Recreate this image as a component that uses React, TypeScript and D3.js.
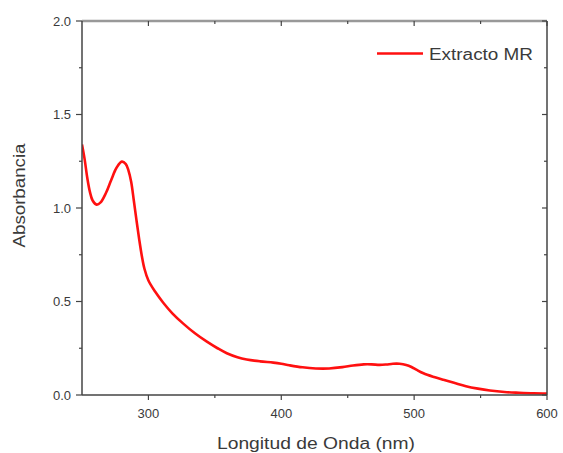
import React from "react";
import * as d3 from "d3";

const wavelengths = [250, 252, 254, 256, 258, 261, 264, 268, 272, 276, 280, 283, 285, 287, 289, 291, 293, 295, 297, 300, 305, 311, 318, 326, 335, 344, 352, 359, 367, 374, 384, 394, 400, 406, 416, 426, 436, 446, 454, 462, 468, 474, 479, 484, 489, 494, 498, 502, 507, 515, 522, 530, 539, 548, 557, 568, 579, 590, 600];
const absorbance = [1.34, 1.26, 1.16, 1.085, 1.04, 1.018, 1.03, 1.08, 1.15, 1.215, 1.248, 1.235, 1.2, 1.14, 1.04, 0.935, 0.835, 0.745, 0.675, 0.612, 0.553, 0.495, 0.437, 0.383, 0.33, 0.285, 0.25, 0.223, 0.202, 0.19, 0.18, 0.173, 0.167, 0.159, 0.148, 0.142, 0.142, 0.149, 0.158, 0.164, 0.164, 0.161, 0.163, 0.167, 0.167, 0.161, 0.15, 0.134, 0.116, 0.096, 0.081, 0.065, 0.047, 0.034, 0.024, 0.016, 0.012, 0.009, 0.008];
const xMajorTicks = [300, 400, 500, 600];
const xMinorTicks = [350, 450, 550];
const yMajorTicks = [0, 0.5, 1.0, 1.5, 2.0];
const yMinorTicks = [0.25, 0.75, 1.25, 1.75];
const seriesName = "Extracto MR";
const xTitle = "Longitud de Onda (nm)";
const yTitle = "Absorbancia";

export default function App() {
  const W = 563, H = 453;
  const L = 82, R = 547, T = 21, B = 395;
  const x = d3.scaleLinear().domain([250, 600]).range([L, R]);
  const y = d3.scaleLinear().domain([0, 2]).range([B, T]);
  const pts = wavelengths.map((w, i) => [w, absorbance[i]] as [number, number]);
  const line = d3.line<[number, number]>().x(d => x(d[0])).y(d => y(d[1])).curve(d3.curveCatmullRom.alpha(0.5));
  const axisColor = "#444";
  const textColor = "#3a3a3a";
  const font = "Liberation Sans, Arial, sans-serif";
  return (
    <svg width={W} height={H} style={{ position: "absolute", left: 0, top: 0, background: "#fff" }} fontFamily={font}>
      <rect x={0} y={0} width={W} height={H} fill="#fff" />
      <defs>
        <clipPath id="plot"><rect x={L} y={T} width={R - L} height={B - T} /></clipPath>
      </defs>
      <path d={line(pts) || ""} fill="none" stroke="#ff1010" strokeWidth={2.6} strokeLinejoin="round" clipPath="url(#plot)" />
      {/* frame */}
      <line x1={L} x2={R} y1={T} y2={T} stroke="#999" strokeWidth={2.5} />
      <line x1={R} x2={R} y1={T} y2={B} stroke={axisColor} strokeWidth={1.5} />
      <line x1={L} x2={L} y1={T} y2={B} stroke={axisColor} strokeWidth={1.5} />
      <line x1={L} x2={R} y1={B} y2={B} stroke={axisColor} strokeWidth={1.5} />
      {/* x ticks */}
      {xMajorTicks.map(t => (
        <g key={"xm" + t}>
          <line x1={x(t)} x2={x(t)} y1={B} y2={B + 5} stroke={axisColor} strokeWidth={1.2} />
          <line x1={x(t)} x2={x(t)} y1={T} y2={T + 5} stroke={axisColor} strokeWidth={1.2} />
          <text x={x(t)} y={418} textAnchor="middle" fontSize={13} fill={textColor}>{t}</text>
        </g>
      ))}
      {xMinorTicks.map(t => (
        <g key={"xn" + t}>
          <line x1={x(t)} x2={x(t)} y1={B} y2={B + 3} stroke={axisColor} strokeWidth={1.2} />
          <line x1={x(t)} x2={x(t)} y1={T} y2={T + 3} stroke={axisColor} strokeWidth={1.2} />
        </g>
      ))}
      {/* y ticks */}
      {yMajorTicks.map(t => (
        <g key={"ym" + t}>
          <line x1={L - 6} x2={L} y1={y(t)} y2={y(t)} stroke={axisColor} strokeWidth={1.2} />
          <line x1={R - 5} x2={R} y1={y(t)} y2={y(t)} stroke={axisColor} strokeWidth={1.2} />
          <text x={71} y={y(t) + 4.5} textAnchor="end" fontSize={13} fill={textColor}>{t.toFixed(1)}</text>
        </g>
      ))}
      {yMinorTicks.map(t => (
        <g key={"yn" + t}>
          <line x1={L - 3} x2={L} y1={y(t)} y2={y(t)} stroke={axisColor} strokeWidth={1.2} />
          <line x1={R - 3} x2={R} y1={y(t)} y2={y(t)} stroke={axisColor} strokeWidth={1.2} />
        </g>
      ))}
      {/* titles */}
      <text x={316} y={449} textAnchor="middle" fontSize={16} fill={textColor} textLength={198} lengthAdjust="spacingAndGlyphs">{xTitle}</text>
      <text transform={`translate(25,195.5) rotate(-90)`} textAnchor="middle" fontSize={16} fill={textColor} textLength={104} lengthAdjust="spacingAndGlyphs">{yTitle}</text>
      {/* legend */}
      <line x1={377} x2={423} y1={53.5} y2={53.5} stroke="#ff1010" strokeWidth={2.6} />
      <text x={429} y={59.5} fontSize={16} fill={textColor} textLength={104} lengthAdjust="spacingAndGlyphs">{seriesName}</text>
    </svg>
  );
}
